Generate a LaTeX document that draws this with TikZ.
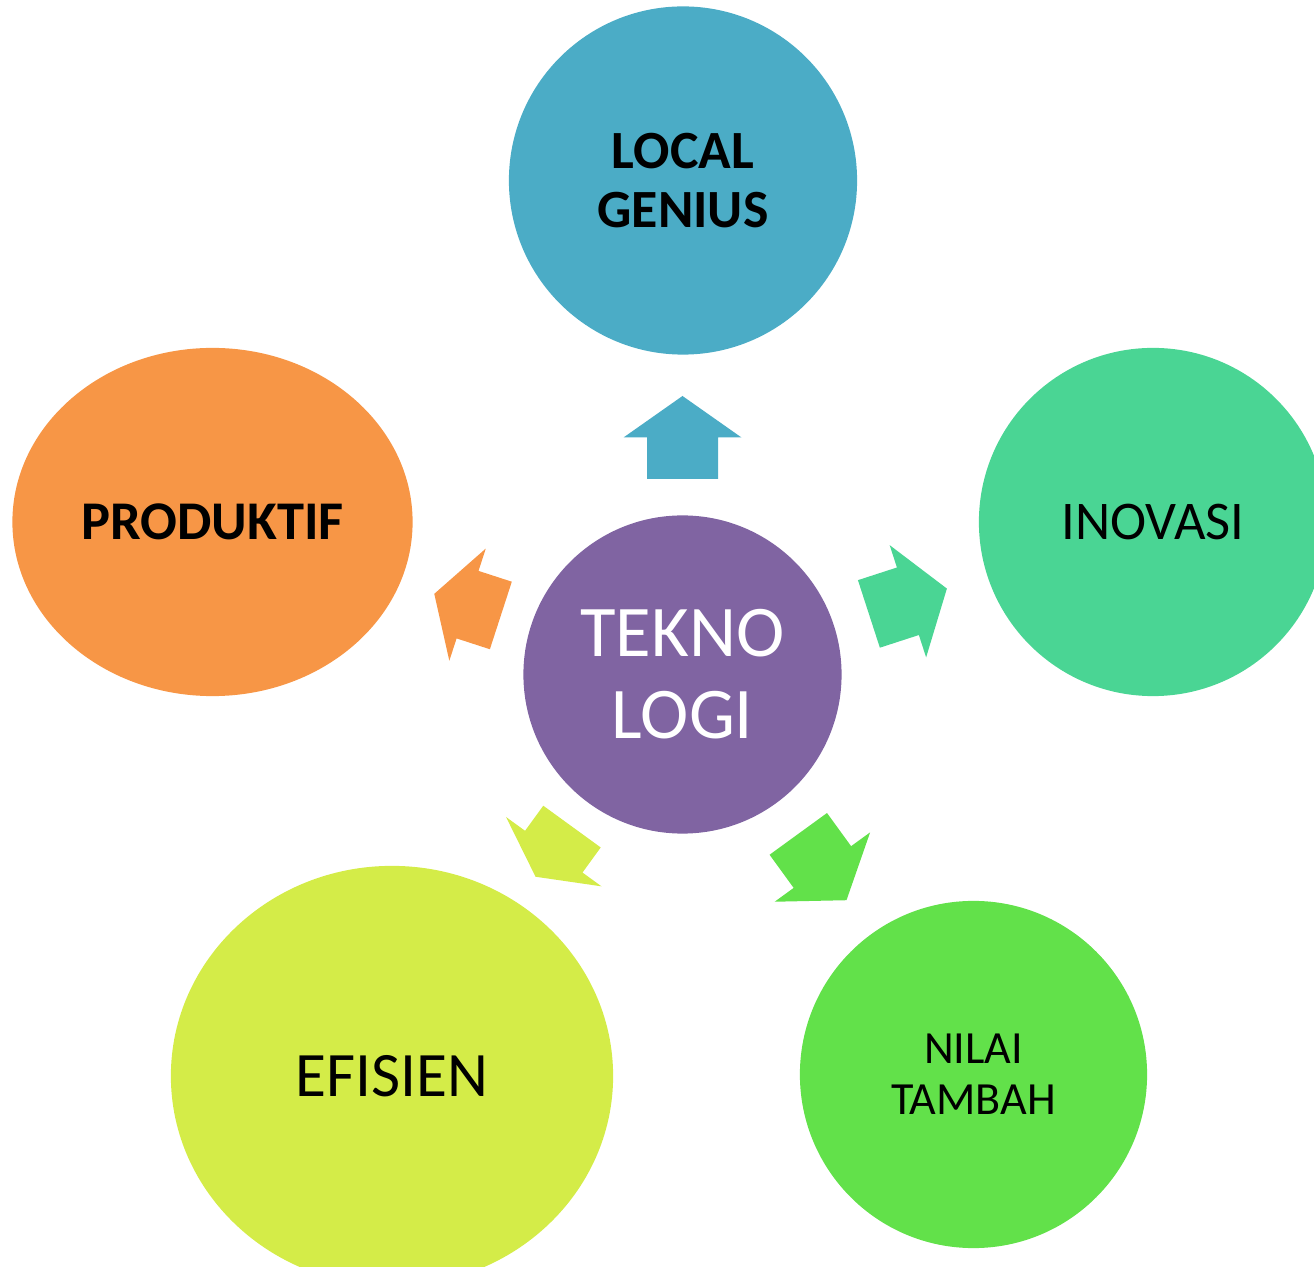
\documentclass[tikz,border=0pt]{standalone}
\usepackage{fontspec}
\setmainfont{Carlito}
\usetikzlibrary{shapes.geometric}
\definecolor{bubBlue}{HTML}{4BACC6}
\definecolor{bubPurple}{HTML}{8064A2}
\definecolor{bubMint}{HTML}{4AD594}
\definecolor{bubGreen}{HTML}{62E14A}
\definecolor{bubYellow}{HTML}{D4EC48}
\definecolor{bubOrange}{HTML}{F79646}
\begin{document}
\begin{tikzpicture}[x=0.01cm, y=-0.01cm,
  bub/.style={circle, inner sep=0pt, minimum size=3.48cm, align=center, text=black},
  oval/.style={ellipse, inner sep=0pt, align=center, text=black}]
\useasboundingbox (0,0) rectangle (1314,1267);
\node[bub, fill=bubPurple, minimum size=3.18cm, text=white, font=\fontsize{20.7}{23.3}\selectfont] (tekno) at (682.5,674.5){TEKNO\\LOGI};
\node[bub, fill=bubBlue, font=\bfseries\fontsize{15.3}{16.8}\selectfont] (local) at (683,180.5){LOCAL\\GENIUS};
\node[bub, fill=bubMint, font=\fontsize{15.5}{18}\selectfont] (inovasi) at (1153,522){INOVASI};
\node[bub, fill=bubGreen, minimum size=3.47cm, font=\fontsize{13.1}{14.5}\selectfont] (nilai) at (973.5,1074.5){NILAI\\TAMBAH};
\node[oval, fill=bubYellow, minimum width=4.42cm, minimum height=4.2cm, font=\fontsize{18}{21}\selectfont] (efisien) at (392,1076){EFISIEN};
\node[oval, fill=bubOrange, minimum width=4cm, minimum height=3.48cm, font=\bfseries\fontsize{15.5}{18}\selectfont] (produktif) at (212.5,522){PRODUKTIF};
% arrows out of the centre
\fill[bubBlue, shift={(tekno.center)}, rotate=90] (195.5,-35.5) -- (237,-35.5) -- (237,-59) -- (278.5,0) -- (237,59) -- (237,35.5) -- (195.5,35.5) -- cycle;
\fill[bubMint, shift={(tekno.center)}, rotate=18] (196,-35.5) -- (237,-35.5) -- (237,-59) -- (278,0) -- (237,59) -- (237,35.5) -- (196,35.5) -- cycle;
\fill[bubGreen, shift={(tekno.center)}, rotate=-54] (197,-35.5) -- (238,-35.5) -- (238,-59) -- (279,0) -- (238,59) -- (238,35.5) -- (197,35.5) -- cycle;
\fill[bubYellow, shift={(tekno.center)}, rotate=-126] (188,-35.5) -- (219,-35.5) -- (219,-59) -- (250,0) -- (219,59) -- (219,35.5) -- (188,35.5) -- cycle;
\fill[bubOrange, shift={(tekno.center)}, rotate=162] (191,-35.5) -- (226,-35.5) -- (226,-59) -- (261,0) -- (226,59) -- (226,35.5) -- (191,35.5) -- cycle;
\end{tikzpicture}
\end{document}
